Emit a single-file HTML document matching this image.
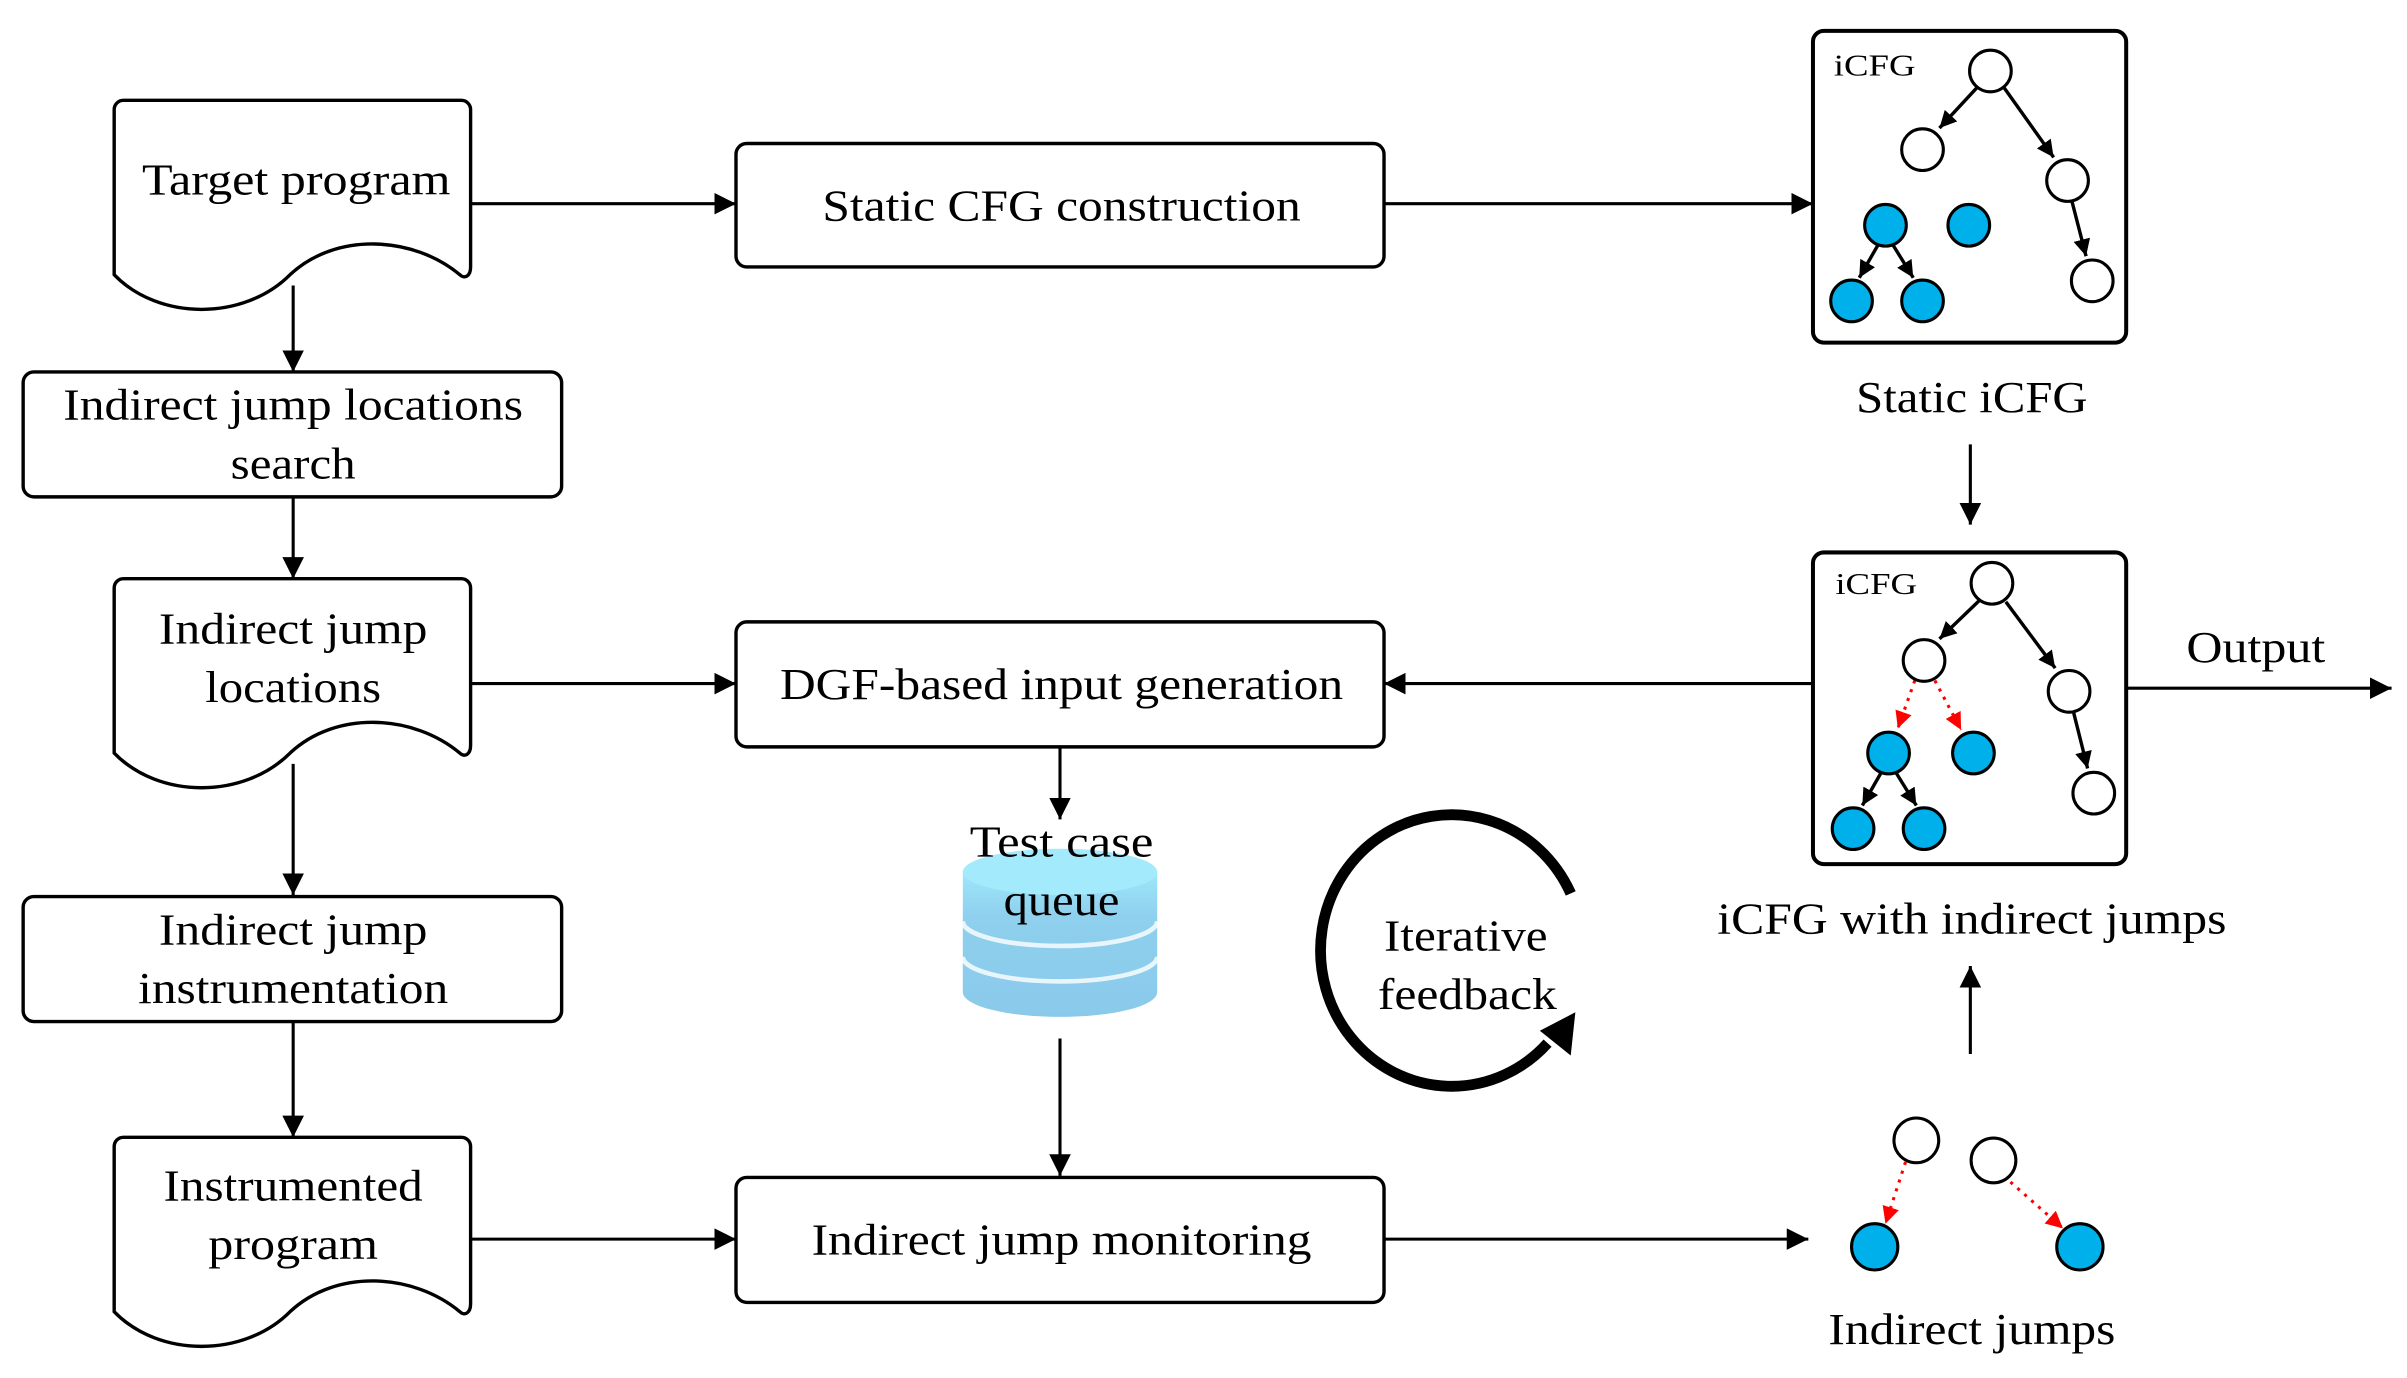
<!DOCTYPE html>
<html><head><meta charset="utf-8"><style>html,body{margin:0;padding:0;background:#fff}svg{display:block}</style></head>
<body>
<svg width="2407" height="1378" viewBox="0 0 1560 893" preserveAspectRatio="none" xmlns="http://www.w3.org/2000/svg" font-family="Liberation Serif, serif" font-size="29">
<defs>
<marker id="a" viewBox="0 0 10 10" refX="10" refY="5" markerWidth="11" markerHeight="11" orient="auto" markerUnits="userSpaceOnUse"><path d="M0,0L10,5L0,10z" fill="#000"/></marker>
<marker id="big" viewBox="0 0 10 10" refX="10" refY="5" markerWidth="14" markerHeight="14" orient="auto" markerUnits="userSpaceOnUse"><path d="M0,0L10,5L0,10z" fill="#000"/></marker>
<marker id="r" viewBox="0 0 10 10" refX="10" refY="5" markerWidth="11" markerHeight="11" orient="auto" markerUnits="userSpaceOnUse"><path d="M0,0L10,5L0,10z" fill="#f00"/></marker>
<linearGradient id="db" x1="0" y1="0" x2="0" y2="1"><stop offset="0" stop-color="#9ee8fb"/><stop offset="0.3" stop-color="#8fd0ee"/><stop offset="1" stop-color="#8ac9ea"/></linearGradient>
</defs>
<g fill="none" stroke="#000" stroke-width="2.2">
<path d="M80,65H299a6,6 0 0 1 6,6V173c0,6 -4,8 -7,5c-30,-25 -80,-28 -110,0c-30,30 -85,30 -114,0V71a6,6 0 0 1 6,-6z"/>
<path d="M80,375H299a6,6 0 0 1 6,6V483c0,6 -4,8 -7,5c-30,-25 -80,-28 -110,0c-30,30 -85,30 -114,0V381a6,6 0 0 1 6,-6z"/>
<path d="M80,737H299a6,6 0 0 1 6,6V845c0,6 -4,8 -7,5c-30,-25 -80,-28 -110,0c-30,30 -85,30 -114,0V743a6,6 0 0 1 6,-6z"/>
<rect x="15" y="241" width="349" height="81" rx="7"/>
<rect x="15" y="581" width="349" height="81" rx="7"/>
<rect x="477" y="93" width="420" height="80" rx="7"/>
<rect x="477" y="403" width="420" height="81" rx="7"/>
<rect x="477" y="763" width="420" height="81" rx="7"/>
<rect x="1175" y="20" width="203" height="202" rx="7" stroke-width="2.6"/>
<rect x="1175" y="358" width="203" height="202" rx="7" stroke-width="2.6"/>
</g>
<g stroke="#000" stroke-width="2">
<line x1="305" y1="132" x2="477" y2="132" marker-end="url(#big)"/>
<line x1="897" y1="132" x2="1175" y2="132" marker-end="url(#big)"/>
<line x1="1277" y1="288" x2="1277" y2="340" marker-end="url(#big)"/>
<line x1="1378" y1="446" x2="1550" y2="446" marker-end="url(#big)"/>
<line x1="1175" y1="443" x2="897" y2="443" marker-end="url(#big)"/>
<line x1="305" y1="443" x2="477" y2="443" marker-end="url(#big)"/>
<line x1="305" y1="803" x2="477" y2="803" marker-end="url(#big)"/>
<line x1="897" y1="803" x2="1172" y2="803" marker-end="url(#big)"/>
<line x1="190" y1="185" x2="190" y2="241" marker-end="url(#big)"/>
<line x1="190" y1="322" x2="190" y2="375" marker-end="url(#big)"/>
<line x1="190" y1="495" x2="190" y2="580" marker-end="url(#big)"/>
<line x1="190" y1="662" x2="190" y2="737" marker-end="url(#big)"/>
<line x1="687" y1="484" x2="687" y2="531" marker-end="url(#big)"/>
<line x1="687" y1="673" x2="687" y2="762" marker-end="url(#big)"/>
<line x1="1277" y1="683" x2="1277" y2="626" marker-end="url(#big)"/>
</g>
<path d="M624,565v78a63,16 0 0 0 126,0v-78z" fill="url(#db)"/>
<ellipse cx="687" cy="565" rx="63" ry="15" fill="#a3ebfc"/>
<path d="M624,597a63,16 0 0 0 126,0" fill="none" stroke="#fff" stroke-width="3" opacity="0.8"/>
<path d="M624,620a63,16 0 0 0 126,0" fill="none" stroke="#fff" stroke-width="3" opacity="0.8"/>
<path d="M1018,579 A85,88 0 1 0 1003,676" fill="none" stroke="#000" stroke-width="7"/>
<path d="M998,668 L1021,656 L1018,684z" fill="#000"/>
<g stroke="#000" stroke-width="2.2">
<line x1="1282" y1="56" x2="1257" y2="83" marker-end="url(#a)"/>
<line x1="1299" y1="57" x2="1331" y2="102" marker-end="url(#a)"/>
<line x1="1343" y1="131" x2="1352" y2="166" marker-end="url(#a)"/>
<line x1="1217" y1="159" x2="1205" y2="180" marker-end="url(#a)"/>
<line x1="1227" y1="159" x2="1240" y2="180" marker-end="url(#a)"/>
<line x1="1283" y1="389" x2="1257" y2="414" marker-end="url(#a)"/>
<line x1="1300" y1="390" x2="1332" y2="433" marker-end="url(#a)"/>
<line x1="1344" y1="462" x2="1353" y2="498" marker-end="url(#a)"/>
<line x1="1219" y1="501" x2="1207" y2="522" marker-end="url(#a)"/>
<line x1="1229" y1="501" x2="1242" y2="522" marker-end="url(#a)"/>
</g>
<g stroke="#f00" stroke-width="2" stroke-dasharray="2,4">
<line x1="1241" y1="441" x2="1230" y2="472" marker-end="url(#r)"/>
<line x1="1254" y1="441" x2="1271" y2="473" marker-end="url(#r)"/>
<line x1="1235" y1="753" x2="1222" y2="793" marker-end="url(#r)"/>
<line x1="1303" y1="766" x2="1337" y2="796" marker-end="url(#r)"/>
</g>
<g stroke="#000" stroke-width="2">
<circle cx="1290" cy="46" r="13.5" fill="#fff"/><circle cx="1246" cy="97" r="13.5" fill="#fff"/>
<circle cx="1340" cy="117" r="13.5" fill="#fff"/><circle cx="1356" cy="182" r="13.5" fill="#fff"/>
<circle cx="1222" cy="146" r="13.5" fill="#00b0ea"/><circle cx="1276" cy="146" r="13.5" fill="#00b0ea"/>
<circle cx="1200" cy="195" r="13.5" fill="#00b0ea"/><circle cx="1246" cy="195" r="13.5" fill="#00b0ea"/>
<circle cx="1291" cy="378" r="13.5" fill="#fff"/><circle cx="1247" cy="428" r="13.5" fill="#fff"/>
<circle cx="1341" cy="448" r="13.5" fill="#fff"/><circle cx="1357" cy="514" r="13.5" fill="#fff"/>
<circle cx="1224" cy="488" r="13.5" fill="#00b0ea"/><circle cx="1279" cy="488" r="13.5" fill="#00b0ea"/>
<circle cx="1201" cy="537" r="13.5" fill="#00b0ea"/><circle cx="1247" cy="537" r="13.5" fill="#00b0ea"/>
<circle cx="1242" cy="739" r="14.5" fill="#fff"/><circle cx="1292" cy="752" r="14.5" fill="#fff"/>
<circle cx="1215" cy="808" r="15" fill="#00b0ea"/><circle cx="1348" cy="808" r="15" fill="#00b0ea"/>
</g>
<g fill="#000" text-anchor="middle">
<text x="192" y="126" textLength="200" lengthAdjust="spacingAndGlyphs">Target program</text>
<text x="688" y="143" textLength="310" lengthAdjust="spacingAndGlyphs">Static CFG construction</text>
<text x="190" y="272" textLength="298" lengthAdjust="spacingAndGlyphs">Indirect jump locations</text>
<text x="190" y="310" textLength="81" lengthAdjust="spacingAndGlyphs">search</text>
<text x="190" y="417" textLength="174" lengthAdjust="spacingAndGlyphs">Indirect jump</text>
<text x="190" y="455" textLength="114" lengthAdjust="spacingAndGlyphs">locations</text>
<text x="688" y="453" textLength="365" lengthAdjust="spacingAndGlyphs">DGF-based input generation</text>
<text x="190" y="612" textLength="174" lengthAdjust="spacingAndGlyphs">Indirect jump</text>
<text x="190" y="650" textLength="201" lengthAdjust="spacingAndGlyphs">instrumentation</text>
<text x="190" y="778" textLength="168" lengthAdjust="spacingAndGlyphs">Instrumented</text>
<text x="190" y="816" textLength="110" lengthAdjust="spacingAndGlyphs">program</text>
<text x="688" y="813" textLength="324" lengthAdjust="spacingAndGlyphs">Indirect jump monitoring</text>
<text x="1278" y="267" textLength="150" lengthAdjust="spacingAndGlyphs">Static iCFG</text>
<text x="1462" y="429" textLength="90" lengthAdjust="spacingAndGlyphs">Output</text>
<text x="1278" y="605" textLength="330" lengthAdjust="spacingAndGlyphs">iCFG with indirect jumps</text>
<text x="688" y="555" textLength="119" lengthAdjust="spacingAndGlyphs">Test case</text>
<text x="688" y="593" textLength="75" lengthAdjust="spacingAndGlyphs">queue</text>
<text x="950" y="616" textLength="106" lengthAdjust="spacingAndGlyphs">Iterative</text>
<text x="951" y="654" textLength="116" lengthAdjust="spacingAndGlyphs">feedback</text>
<text x="1278" y="871" textLength="186" lengthAdjust="spacingAndGlyphs">Indirect jumps</text>
<text x="1215" y="49" font-size="20" textLength="53" lengthAdjust="spacingAndGlyphs">iCFG</text>
<text x="1216" y="385" font-size="20" textLength="53" lengthAdjust="spacingAndGlyphs">iCFG</text>
</g>
</svg>
</body></html>
